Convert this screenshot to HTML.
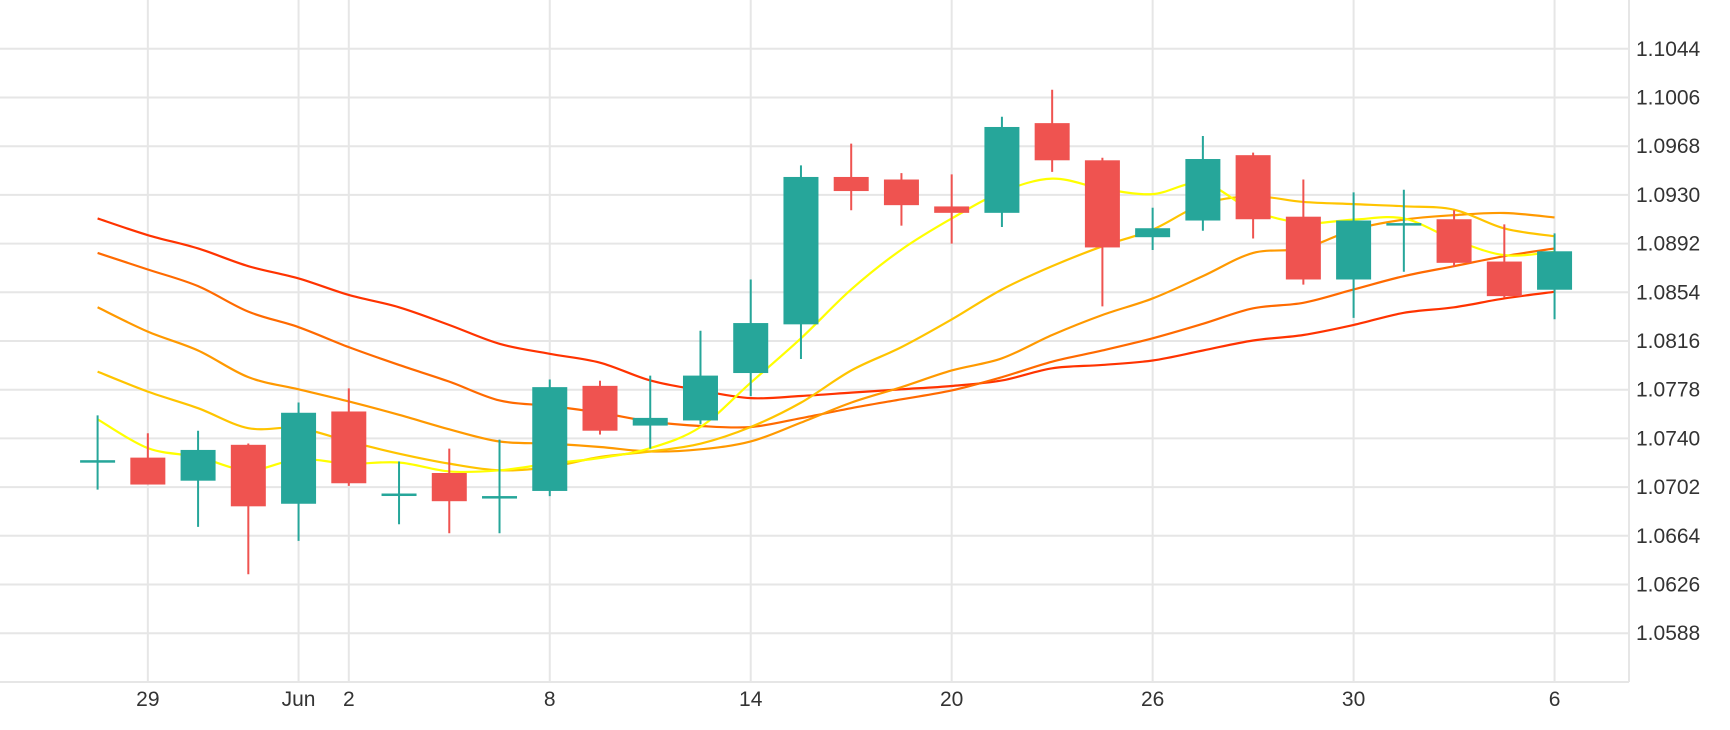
<!DOCTYPE html>
<html><head><meta charset="utf-8"><style>
html,body{margin:0;padding:0;background:#fff;}
svg{display:block;font-family:"Liberation Sans",sans-serif;}
</style></head><body>
<svg id="chart" width="1730" height="730" xmlns="http://www.w3.org/2000/svg">
<g id="grid"></g>
<g id="lines"></g>
<g id="candles"></g>
<g id="yaxis"></g>
<g id="xaxis"></g>
</svg>
<script>
const opens  = [1.0723,1.0725,1.0707,1.0735,1.0689,1.0761,1.0697,1.0713,1.0695,1.0699,1.0781,1.0750,1.0754,1.0791,1.0829,1.0944,1.0942,1.0921,1.0916,1.0986,1.0957,1.0897,1.0910,1.0961,1.0913,1.0864,1.0908,1.0911,1.0878,1.0856];
const highs  = [1.0758,1.0744,1.0746,1.0736,1.0768,1.0779,1.0722,1.0732,1.0739,1.0786,1.0785,1.0789,1.0824,1.0864,1.0953,1.0970,1.0947,1.0946,1.0991,1.1012,1.0959,1.0920,1.0976,1.0963,1.0942,1.0932,1.0934,1.0918,1.0907,1.0900];
const lows   = [1.0700,1.0704,1.0671,1.0634,1.0660,1.0703,1.0673,1.0666,1.0666,1.0695,1.0743,1.0732,1.0751,1.0773,1.0802,1.0918,1.0906,1.0892,1.0905,1.0948,1.0843,1.0887,1.0902,1.0896,1.0860,1.0834,1.0870,1.0874,1.0850,1.0833];
const closes = [1.0723,1.0704,1.0731,1.0687,1.0760,1.0705,1.0697,1.0691,1.0695,1.0780,1.0746,1.0756,1.0789,1.0830,1.0944,1.0933,1.0922,1.0916,1.0983,1.0957,1.0889,1.0904,1.0958,1.0911,1.0864,1.0910,1.0908,1.0877,1.0851,1.0886];
const maYellow = [1.07549,1.07324,1.07255,1.07151,1.07238,1.07203,1.07212,1.07142,1.07151,1.07203,1.07247,1.07324,1.07489,1.07835,1.08181,1.08562,1.08873,1.09116,1.09323,1.09427,1.09349,1.09306,1.09393,1.09177,1.09082,1.09107,1.09116,1.08951,1.08830,1.08856];
const maGold = [1.07921,1.07765,1.07636,1.07480,1.07480,1.07376,1.07281,1.07203,1.07151,1.07177,1.07255,1.07298,1.07359,1.07489,1.07679,1.07930,1.08112,1.08328,1.08562,1.08744,1.08899,1.09029,1.09228,1.09289,1.09245,1.09228,1.09211,1.09185,1.09038,1.08977];
const maOrange = [1.08423,1.08233,1.08086,1.07878,1.07783,1.07688,1.07584,1.07471,1.07376,1.07359,1.07333,1.07298,1.07315,1.07376,1.07523,1.07679,1.07800,1.07930,1.08025,1.08207,1.08363,1.08492,1.08666,1.08847,1.08882,1.09029,1.09107,1.09142,1.09159,1.09124];
const maDark = [1.08847,1.08718,1.08588,1.08389,1.08268,1.08112,1.07973,1.07843,1.07696,1.07653,1.07601,1.07532,1.07497,1.07489,1.07558,1.07636,1.07705,1.07774,1.07878,1.07999,1.08086,1.08181,1.08294,1.08415,1.08458,1.08562,1.08666,1.08744,1.08822,1.08882];
const maRed = [1.09116,1.08986,1.08882,1.08744,1.08648,1.08519,1.08423,1.08285,1.08138,1.08060,1.07991,1.07852,1.07775,1.07714,1.07731,1.07757,1.07783,1.07809,1.07852,1.07947,1.07973,1.08008,1.08086,1.08164,1.08207,1.08285,1.08380,1.08423,1.08492,1.08544];
const yTicks = ["1.1044","1.1006","1.0968","1.0930","1.0892","1.0854","1.0816","1.0778","1.0740","1.0702","1.0664","1.0626","1.0588"];
const xTickIdx = [1,4,5,9,13,17,21,25,29];
const xTickLabels = ["29","Jun","2","8","14","20","26","30","6"];

const NS="http://www.w3.org/2000/svg";
const X0=97.6, XS=50.24, RIGHT=1629, BOTTOM=682;
function xAt(i){return X0+XS*i;}
function yAt(p){return 48.8+(1.1044-p)/0.0038*48.7;}
function mk(tag,attrs,parent){const e=document.createElementNS(NS,tag);for(const k in attrs)e.setAttribute(k,attrs[k]);parent.appendChild(e);return e;}

const grid=document.getElementById('grid');
yTicks.forEach(t=>{const y=yAt(parseFloat(t));
 const l=mk('line',{x1:0,x2:RIGHT,y1:y,y2:y,stroke:'#e6e6e6','stroke-width':2},grid);
 
 });
xTickIdx.forEach(i=>{const x=xAt(i);
 const l=mk('line',{x1:x,x2:x,y1:0,y2:BOTTOM,stroke:'#e6e6e6','stroke-width':2},grid);
 
 });
const bl=mk('line',{x1:0,x2:RIGHT,y1:BOTTOM,y2:BOTTOM,stroke:'#e6e6e6','stroke-width':2},grid);


const rl=mk('line',{x1:RIGHT,x2:RIGHT,y1:0,y2:BOTTOM,stroke:'#e6e6e6','stroke-width':2},grid);



const ya=document.getElementById('yaxis');
yTicks.forEach(t=>{const tx=mk('text',{x:1636,y:yAt(parseFloat(t))+7,'font-size':21,fill:'#333'},ya);tx.textContent=t;
 
 });
const xa=document.getElementById('xaxis');
xTickIdx.forEach((i,k)=>{const tx=mk('text',{x:xAt(i),y:706,'font-size':21,fill:'#333','text-anchor':'middle'},xa);tx.textContent=xTickLabels[k];
 
 });

function path(vals){const pts=vals.map((v,i)=>[xAt(i),yAt(v)]);let d='M'+pts[0][0]+','+pts[0][1];
 for(let i=0;i<pts.length-1;i++){const p0=pts[Math.max(0,i-1)],p1=pts[i],p2=pts[i+1],p3=pts[Math.min(pts.length-1,i+2)];
  const c1=[p1[0]+(p2[0]-p0[0])/6,p1[1]+(p2[1]-p0[1])/6],c2=[p2[0]-(p3[0]-p1[0])/6,p2[1]-(p3[1]-p1[1])/6];
  d+=' C'+c1[0]+','+c1[1]+' '+c2[0]+','+c2[1]+' '+p2[0]+','+p2[1];}
 return d;}
const lg=document.getElementById('lines');
[[maRed,'#ff3300','ma-red-line'],[maDark,'#ff6a00','ma-dark-orange-line'],[maOrange,'#ff9900','ma-orange-line'],[maGold,'#ffc400','ma-gold-line'],[maYellow,'#ffff00','ma-yellow-line']].forEach(s=>{
 const p=mk('path',{d:path(s[0]),fill:'none',stroke:s[1],'stroke-width':2.2},lg);
 
 });

const cg=document.getElementById('candles');
const BW=35;
opens.forEach((o,i)=>{const c=closes[i];const up=c>=o;const col=up?'#26a69a':'#ef5350';const x=xAt(i);
 const g=mk('g',{},cg);
 
 
 mk('line',{x1:x,x2:x,y1:yAt(highs[i]),y2:yAt(lows[i]),stroke:col,'stroke-width':2},g);
 const yt=yAt(Math.max(o,c)),yb=yAt(Math.min(o,c));
 mk('rect',{x:x-BW/2,y:yt,width:BW,height:Math.max(2.5,yb-yt),fill:col},g);});
</script>
</body></html>
